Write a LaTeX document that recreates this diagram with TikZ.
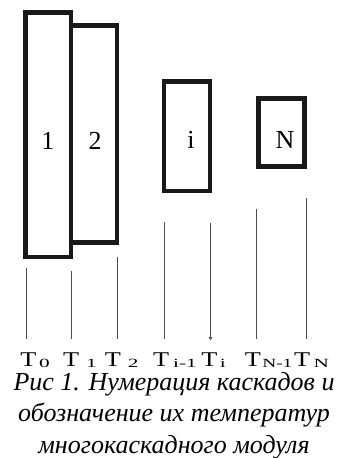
\documentclass[tikz,border=0pt]{standalone}
\usepackage{fontspec}
\usepackage{graphicx}
\setmainfont{Liberation Serif}
\usetikzlibrary{arrows.meta}
% temperature label: widened T, a kern, then the widened, slightly lowered index
\newcommand{\subfont}{\fontsize{12.5}{14}\selectfont}
\newcommand{\tlabel}[3][1.7]{\scalebox{1.25}[1]{T}\kern#2pt\raisebox{-1pt}{\scalebox{#1}[1]{\subfont #3}}}
\begin{document}
\begin{tikzpicture}[x=1pt,y=-1pt,
  stage/.style={draw=black!90,line width=4.5pt,minimum width=#1,inner sep=0pt},
  stagenum/.style={font=\fontsize{26}{28}\selectfont,inner sep=0pt},
  tlab/.style={font=\fontsize{21}{24}\selectfont,inner sep=0pt,anchor=base west},
  lead/.style={draw=black!70,line width=1pt},
  caption/.style={font=\fontsize{26}{31.5}\selectfont\itshape,align=center,inner sep=0pt,anchor=base}]
\useasboundingbox (0,0) rectangle (340,458);

% cascade stages
\node[stage=45.5pt,minimum height=244.5pt] (b1) at (48.25,134.75) {};
\node[stage=46pt,minimum height=217pt] (b2) at (94,134) {};
\node[stage=46pt,minimum height=109.5pt] (bi) at (187,136.25) {};
\node[stage=46pt,minimum height=68pt] (bN) at (281.5,132.5) {};

\node[stagenum] (n1) at (48,141) {1};
\node[stagenum] (n2) at (95,141) {2};
\node[stagenum] (ni) at (191,140) {i};
\node[stagenum] (nN) at (285,140) {N};

% temperature leads
\coordinate (u0) at (26,268);    \coordinate (d0) at (26,339);
\coordinate (u1) at (71,271);    \coordinate (d1) at (71,339);
\coordinate (u2) at (117,257);   \coordinate (d2) at (117,339);
\coordinate (u3) at (164.3,222); \coordinate (d3) at (164.3,339);
\coordinate (u4) at (210.5,223); \coordinate (d4) at (210.5,340);
\coordinate (u5) at (256,209);   \coordinate (d5) at (256,339);
\coordinate (u6) at (306,198);   \coordinate (d6) at (306,339);
\draw[lead] (u0) -- (d0);
\draw[lead] (u1) -- (d1);
\draw[lead] (u2) -- (d2);
\draw[lead] (u3) -- (d3);
\draw[lead,-{Straight Barb[length=2pt,width=3pt]}] (u4) -- (d4);
\draw[lead] (u5) -- (d5);
\draw[lead] (u6) -- (d6);

% temperature labels
\node[tlab] (T0)  at (20.25,366.5)  {\tlabel{2.55}{0}};
\node[tlab] (T1)  at (62.85,366.5)  {\tlabel{7.05}{1}};
\node[tlab] (T2)  at (104.55,366.5) {\tlabel{7.15}{2}};
\node[tlab] (Ti1) at (152.85,366.5) {\tlabel{4.15}{i-1}};
\node[tlab] (Ti)  at (201.25,366.5) {\tlabel{2.45}{i}};
\node[tlab] (TN1) at (244.55,366.5) {\tlabel[1.55]{1.5}{N-1}};
\node[tlab] (TN)  at (294,366.5)    {\tlabel{3.5}{N}};

% caption, anchored at the baseline of its last line
\node[caption] (cap) at (174,453) {Рис 1. Нумерация каскадов и\\обозначение их температур\\многокаскадного модуля};
\end{tikzpicture}
\end{document}
